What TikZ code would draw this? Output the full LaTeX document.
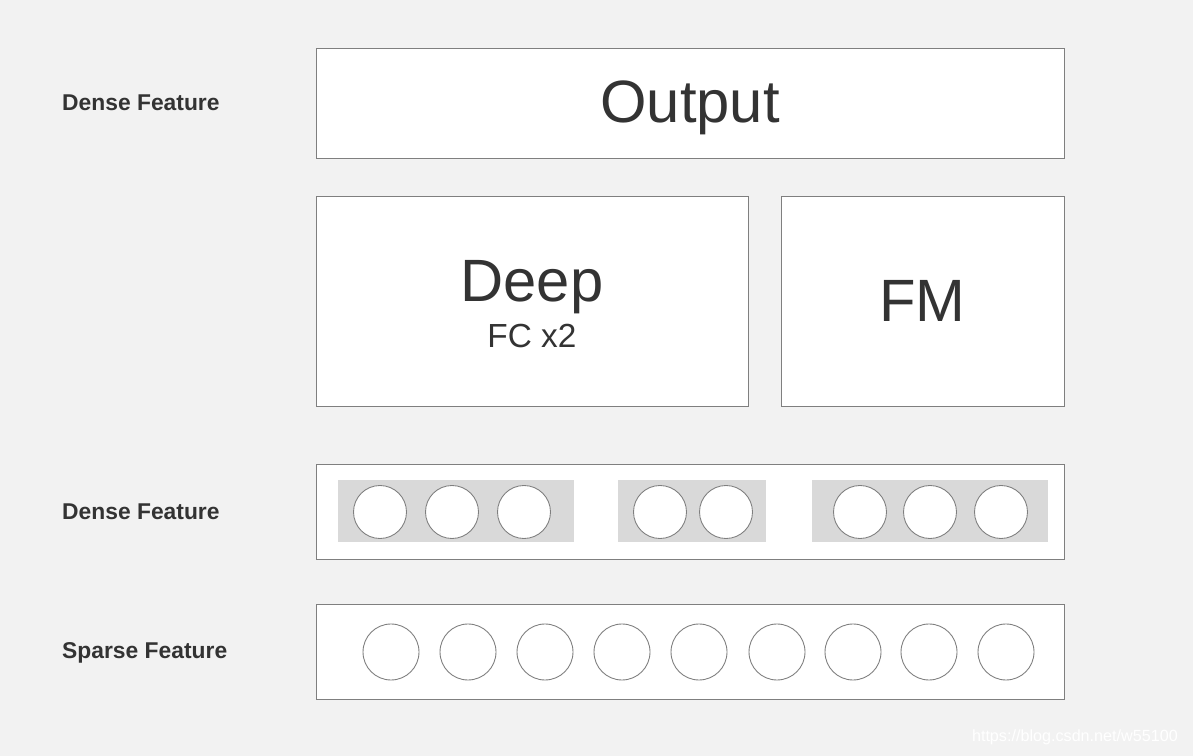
\documentclass[tikz,border=0pt]{standalone}
\usepackage{fontspec}
\setmainfont{Liberation Sans}
\definecolor{bgc}{HTML}{F2F2F2}
\definecolor{edgec}{HTML}{7F7F7F}
\definecolor{grpc}{HTML}{D9D9D9}
\definecolor{txtc}{HTML}{333333}
\begin{document}
\begin{tikzpicture}[x=0.02cm, y=-0.02cm]
    \tikzstyle{box}=[draw=edgec, fill=white, line width=0.5pt, inner sep=0pt, minimum width=14.96cm]
    \tikzstyle{grp}=[fill=grpc, inner sep=0pt, minimum height=1.24cm]
    \tikzstyle{unit}=[circle, draw=edgec, fill=white, line width=0.5pt, inner sep=0pt]
    \tikzstyle{lbl}=[anchor=west, text=txtc, font=\fontsize{13}{15}\selectfont\bfseries]
    \tikzstyle{big}=[text=txtc, font=\fontsize{34}{40}\selectfont]
    % background
    \fill[bgc] (0,0) rectangle (1193,756);
    \useasboundingbox (0,0) rectangle (1193,756);
    % output layer
    \node[box, minimum height=2.2cm] (output) at (690,103) {};
    \node[big] (outtxt) at (690,108) {Output};
    \node[lbl] (lblout) at (56,103) {Dense Feature};
    % deep and fm parts
    \node[box, minimum width=8.64cm, minimum height=4.2cm] (deep) at (532,301) {};
    \node[big] (deeptxt) at (532,287) {Deep};
    \node[text=txtc, font=\fontsize{19}{22}\selectfont] (fctxt) at (532,336) {FC x2};
    \node[box, minimum width=5.66cm, minimum height=4.2cm] (fm) at (922.5,301) {};
    \node[big] (fmtxt) at (922.5,301) {FM};
    % dense features (embeddings)
    \node[box, minimum height=1.9cm] (dense) at (690,511.5) {};
    \node[lbl] (lbldense) at (56,512) {Dense Feature};
    \node[grp, minimum width=4.72cm] (grpa) at (456,511) {};
    \node[grp, minimum width=2.96cm] (grpb) at (692,511) {};
    \node[grp, minimum width=4.72cm] (grpc) at (930,511) {};
    \foreach \x [count=\i] in {380,452,524,660,726,860,930,1001}
      {\node[unit, minimum size=1.06cm] (d\i) at (\x,512) {};}
    % sparse features
    \node[box, minimum height=1.9cm] (sparse) at (690,651.5) {};
    \node[lbl] (lblsparse) at (56,653) {Sparse Feature};
    \foreach \x [count=\i] in {391,468,545,622,699,777,853,929,1006}
      {\node[unit, minimum size=1.12cm] (s\i) at (\x,652) {};}
    % watermark
    \node[anchor=east, text=white, font=\fontsize{9.2}{11}\selectfont] (mark) at (1184,737) {https://blog.csdn.net/w55100};
\end{tikzpicture}
\end{document}
